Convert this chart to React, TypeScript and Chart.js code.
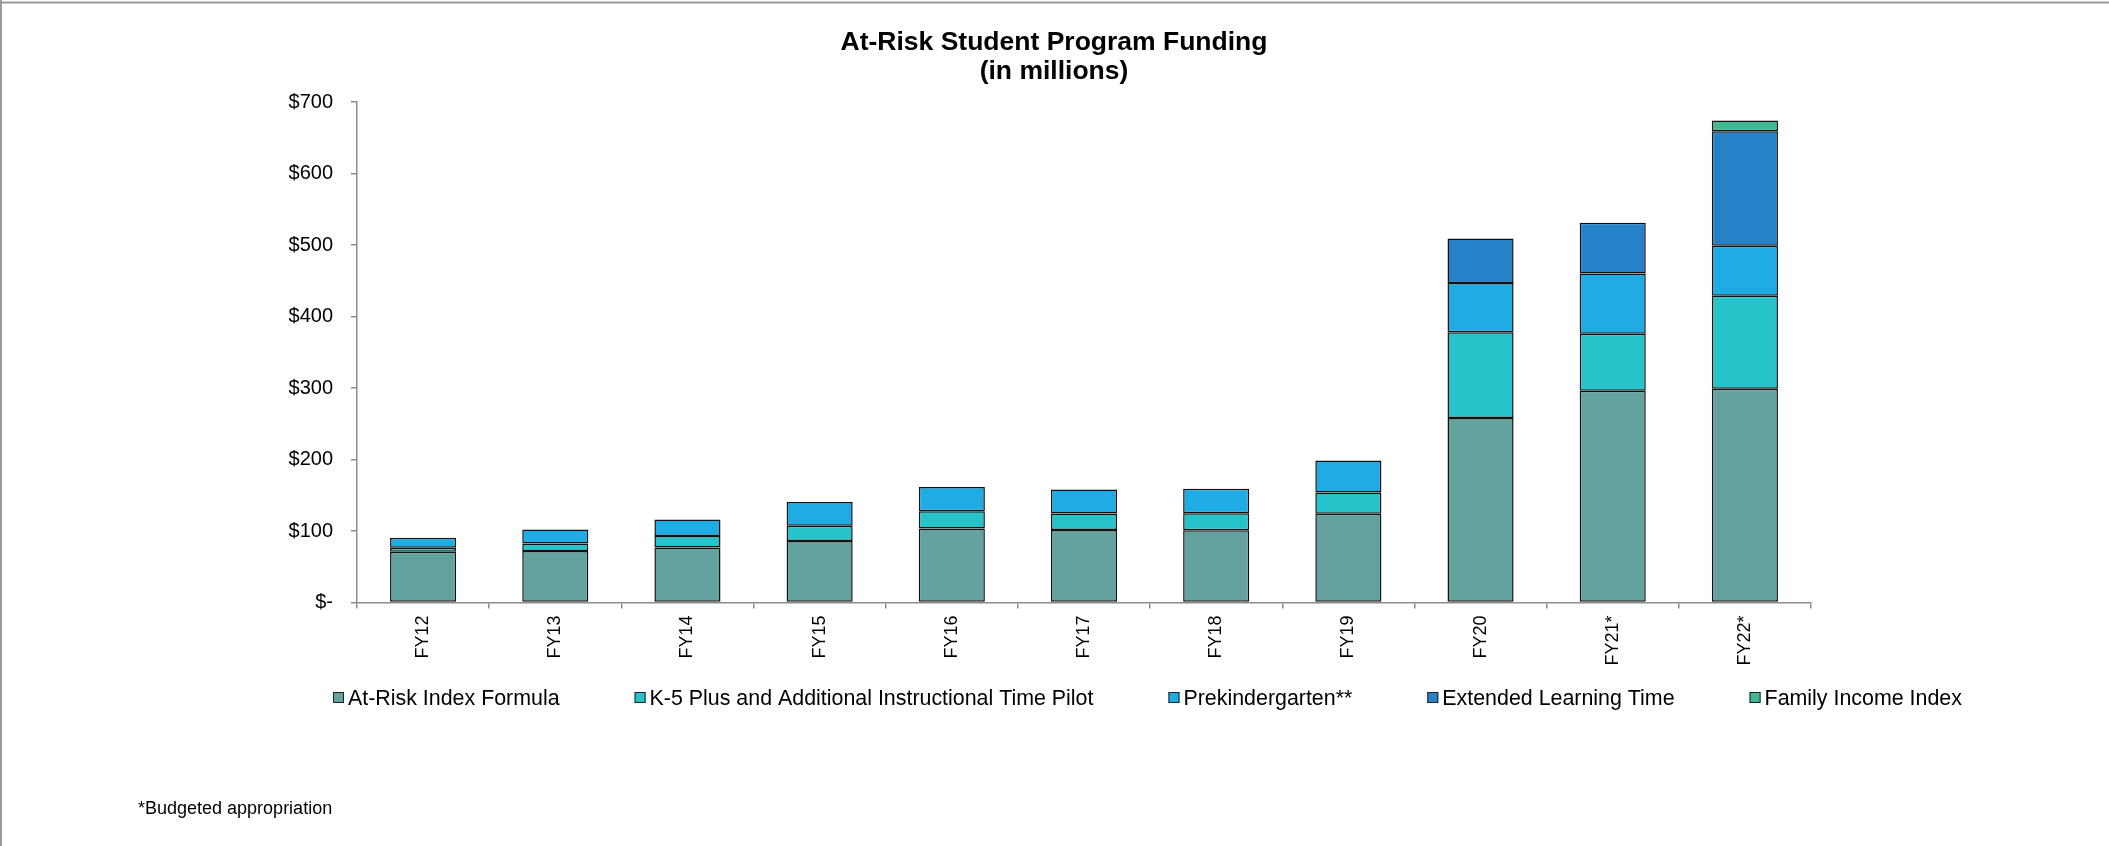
import React, { useEffect, useRef } from 'react';
import { Chart, registerables } from 'chart.js';

Chart.register(...registerables);

const categories = ['FY12', 'FY13', 'FY14', 'FY15', 'FY16', 'FY17', 'FY18', 'FY19', 'FY20', 'FY21*', 'FY22*'];
const atRiskIndex = [71, 72, 77, 86, 103.5, 101.5, 101, 124, 258, 296, 299];
const k5Plus = [5.5, 10.5, 16, 21.5, 24, 23, 24, 30, 120, 80, 130];
const preK = [14, 19.5, 23, 33, 34, 33.5, 34, 44.5, 69, 84, 70];
const extendedLearning = [null, null, null, null, null, null, null, null, 62, 71, 160];
const familyIncome = [null, null, null, null, null, null, null, null, null, null, 15];

const seriesNames = [
  'At-Risk Index Formula',
  'K-5 Plus and Additional Instructional Time Pilot',
  'Prekindergarten**',
  'Extended Learning Time',
  'Family Income Index',
];
const seriesColors = ['#63A29E', '#27C3CB', '#1FABE3', '#2682C8', '#41B995'];

const yTickValues = [0, 100, 200, 300, 400, 500, 600, 700];
const yTickLabels = ['$-', '$100', '$200', '$300', '$400', '$500', '$600', '$700'];

const titleLines = ['At-Risk Student Program Funding', '(in millions)'];
const footnote = '*Budgeted appropriation';

const FONT = '"Liberation Sans", Arial, Helvetica, sans-serif';

const decorPlugin = {
  id: 'decor',
  afterDraw(chart: any) {
    const ctx = chart.ctx as CanvasRenderingContext2D;
    ctx.save();
    // outer frame (top and left edges visible)
    ctx.strokeStyle = '#9a9a9a';
    ctx.lineWidth = 2;
    ctx.beginPath();
    ctx.moveTo(0, 2.5);
    ctx.lineTo(chart.width, 2.5);
    ctx.moveTo(1, 0);
    ctx.lineTo(1, chart.height);
    ctx.stroke();

    // title
    ctx.fillStyle = '#000';
    ctx.font = `bold 26.5px ${FONT}`;
    ctx.textAlign = 'center';
    ctx.textBaseline = 'alphabetic';
    titleLines.forEach((t, i) => ctx.fillText(t, 1054, 49.5 + i * 29.5));

    // legend
    ctx.font = `21.4px ${FONT}`;
    ctx.textAlign = 'left';
    let x = 333;
    const boxTop = 692;
    chart.data.datasets.forEach((ds: any) => {
      ctx.fillStyle = ds.backgroundColor;
      ctx.fillRect(x, boxTop, 11, 11);
      ctx.strokeStyle = '#222';
      ctx.lineWidth = 1;
      ctx.strokeRect(x + 0.5, boxTop + 0.5, 10, 10);
      ctx.fillStyle = '#000';
      const tx = x + 15;
      ctx.fillText(ds.label, tx, 704.5);
      x = tx + ctx.measureText(ds.label).width + 75;
    });

    // footnote
    ctx.font = `18px ${FONT}`;
    ctx.fillStyle = '#000';
    ctx.fillText(footnote, 138, 814);
    ctx.restore();
  },
};

export default function App() {
  const canvasRef = useRef<HTMLCanvasElement | null>(null);

  useEffect(() => {
    if (!canvasRef.current) return;
    const series = [atRiskIndex, k5Plus, preK, extendedLearning, familyIncome];
    const chart = new Chart(canvasRef.current, {
      type: 'bar',
      data: {
        labels: categories,
        datasets: series.map((d, i) => ({
          label: seriesNames[i],
          data: d as any,
          backgroundColor: seriesColors[i],
          borderColor: '#111',
          borderWidth: 1.5,
          borderSkipped: false,
          barPercentage: 0.5,
          categoryPercentage: 1,
        })),
      },
      options: {
        responsive: false,
        animation: false,
        devicePixelRatio: 1,
        layout: { padding: { left: 257, right: 298, top: 102, bottom: 143.5 } },
        plugins: {
          legend: { display: false },
          title: { display: false },
          tooltip: { enabled: false },
        },
        scales: {
          x: {
            stacked: true,
            afterFit: (s: any) => { s.height = 100; },
            grid: {
              display: true,
              drawOnChartArea: false,
              drawTicks: true,
              tickLength: 6,
              color: '#8c8c8c',
              lineWidth: 1.5,
              offset: true,
            },
            border: { display: true, color: '#8c8c8c', width: 1.5 },
            ticks: {
              minRotation: 90,
              maxRotation: 90,
              padding: 7,
              color: '#000',
              font: { family: FONT, size: 18 },
              autoSkip: false,
            },
          },
          y: {
            stacked: true,
            min: 0,
            max: 700,
            afterFit: (s: any) => { s.width = 100; },
            afterBuildTicks: (s: any) => { s.ticks = yTickValues.map((v) => ({ value: v })); },
            grid: {
              display: true,
              drawOnChartArea: false,
              drawTicks: true,
              tickLength: 6,
              color: '#8c8c8c',
              lineWidth: 1.5,
            },
            border: { display: true, color: '#8c8c8c', width: 1.5 },
            ticks: {
              padding: 18,
              color: '#000',
              font: { family: FONT, size: 20 },
              callback: (v: any) => {
                const idx = yTickValues.indexOf(Number(v));
                return idx >= 0 ? yTickLabels[idx] : '';
              },
            },
          },
        },
      },
      plugins: [decorPlugin],
    });
    return () => chart.destroy();
  }, []);

  return (
    <div style={{ position: 'absolute', left: 0, top: 0, width: 2109, height: 846, background: '#fff' }}>
      <canvas ref={canvasRef} width={2109} height={846} style={{ display: 'block' }} />
    </div>
  );
}
